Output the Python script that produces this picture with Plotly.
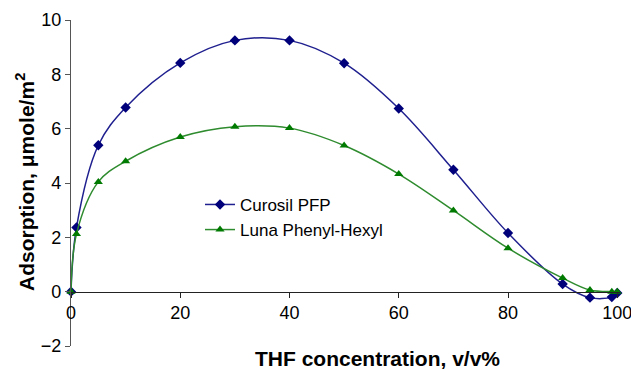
import plotly.graph_objects as go

thf = [0, 1, 5, 10, 20, 30, 40, 50, 60, 70, 80, 90, 95, 99, 100]
curosil = [0, 2.36, 5.39, 6.78, 8.42, 9.25, 9.25, 8.41, 6.74, 4.49, 2.16, 0.28, -0.22, -0.2, -0.05]
thf_luna = [0, 1, 5, 10, 20, 30, 40, 50, 60, 70, 80, 90, 95, 99, 100]
luna = [0, 2.12, 4.04, 4.8, 5.69, 6.07, 6.02, 5.38, 4.33, 2.99, 1.6, 0.5, 0.06, 0.0, 0.0]

x_ticks = [0, 20, 40, 60, 80, 100]
y_ticks = [-2, 0, 2, 4, 6, 8, 10]

FONT = "Liberation Sans, Arial, sans-serif"

fig = go.Figure()
fig.add_trace(go.Scatter(
    x=thf, y=curosil, name="Curosil PFP", mode="lines+markers",
    line=dict(color="#1f1f8f", width=1.5, shape="spline", smoothing=1.0),
    marker=dict(symbol="diamond", size=8, color="#00007a"),
    cliponaxis=False,
))
fig.add_trace(go.Scatter(
    x=thf_luna, y=luna, name="Luna Phenyl-Hexyl", mode="lines+markers",
    line=dict(color="#2e8b2e", width=1.5, shape="spline", smoothing=1.0),
    marker=dict(symbol="triangle-up", size=8, color="#007a00"),
    cliponaxis=False,
))

fig.update_layout(
    width=631, height=370,
    margin=dict(l=71, r=11, t=20, b=24),
    paper_bgcolor="white", plot_bgcolor="white",
    font=dict(family=FONT, size=17, color="black"),
    showlegend=True,
    legend=dict(x=0.235, y=0.488, xanchor="left", yanchor="top",
                font=dict(size=17), bgcolor="rgba(0,0,0,0)",
                tracegroupgap=0, itemwidth=30),
    xaxis=dict(range=[0, 100.5], tickvals=x_ticks, showline=True, linecolor="#222",
               linewidth=1.2, ticks="outside", ticklen=5, tickcolor="#222",
               showgrid=False, zeroline=False, anchor="free", position=1/6,
               tickfont=dict(size=18), ticklabeloverflow="allow", automargin=False),
    yaxis=dict(range=[-2, 10], tickvals=y_ticks, showline=True, linecolor="#555",
               linewidth=1.2, ticks="outside", ticklen=5, tickcolor="#555",
               showgrid=False, zeroline=False,
               tickfont=dict(size=18), ticklabeloverflow="allow", automargin=False),
)

fig.add_annotation(text="<b>THF concentration, v/v%</b>", xref="paper", yref="paper",
                   x=0.559, y=-0.037, xanchor="center", yanchor="middle",
                   showarrow=False, font=dict(size=21))
fig.add_annotation(text="<b>Adsorption, μmole/m<sup>2</sup></b>", xref="paper", yref="paper",
                   x=-0.084, y=0.503, xanchor="center", yanchor="middle", textangle=-90,
                   showarrow=False, font=dict(size=21))

fig.write_html("out.html")
